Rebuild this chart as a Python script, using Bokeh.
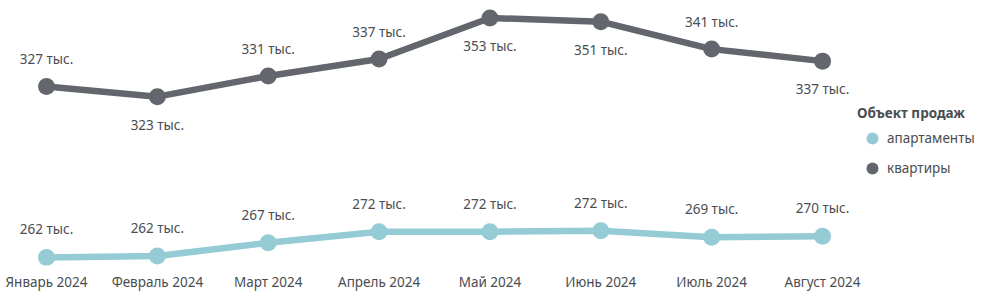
from bokeh.plotting import figure
from bokeh.models import ColumnDataSource, Legend, LegendItem, FixedTicker
from bokeh.core.properties import value
from bokeh.embed import file_html
from bokeh.resources import INLINE

months = ["Январь 2024", "Февраль 2024", "Март 2024", "Апрель 2024",
          "Май 2024", "Июнь 2024", "Июль 2024", "Август 2024"]
flats = [327, 323, 331, 337, 353, 351, 341, 337]
apartments = [262, 262, 267, 272, 272, 272, 269, 270]
flats_y = [327.4, 323.5, 331.4, 337.9, 353.6, 352.2, 341.7, 337.1]
apartments_y = [262.0, 262.5, 267.6, 271.8, 271.8, 272.2, 269.7, 270.1]
flats_label_pos = ["above", "below", "above", "above", "below", "below", "above", "below"]

FONT = "Noto Sans"
TEXT = "#4a4d52"
GREY = "#63676d"
TEAL = "#94cbd5"

x = list(range(len(months)))

p = figure(width=986, height=295, output_backend="svg", toolbar_location=None,
           x_range=(-0.415, 8.479), y_range=(258.9, 360.3),
           y_axis_type=None, min_border=0, min_border_bottom=30,
           outline_line_color=None, background_fill_color="white",
           border_fill_color="white")
p.grid.visible = False

ax = p.xaxis[0]
ax.ticker = FixedTicker(ticks=x)
ax.major_label_overrides = {i: m for i, m in enumerate(months)}
ax.axis_line_color = None
ax.major_tick_line_color = None
ax.minor_tick_line_color = None
ax.major_tick_out = 0
ax.major_label_standoff = 7
ax.major_label_text_font = FONT
ax.major_label_text_font_size = "13.5px"
ax.major_label_text_color = TEXT

src_f = ColumnDataSource(dict(x=x, y=flats_y,
                              lab=[f"{v} тыс." for v in flats],
                              off=[-27 if s == "above" else 28 for s in flats_label_pos]))
src_a = ColumnDataSource(dict(x=x, y=apartments_y,
                              lab=[f"{v} тыс." for v in apartments],
                              off=[-28] * len(x)))

p.line("x", "y", source=src_f, line_color=GREY, line_width=6.5)
rf = p.scatter("x", "y", source=src_f, size=17, fill_color=GREY, line_color=None)
p.line("x", "y", source=src_a, line_color=TEAL, line_width=6.5)
ra = p.scatter("x", "y", source=src_a, size=17, fill_color=TEAL, line_color=None)

for src in (src_f, src_a):
    p.text("x", "y", text="lab", source=src, y_offset="off",
           text_align="center", text_baseline="middle",
           text_font=value(FONT), text_font_size="13.5px", text_color=TEXT)

legend = Legend(items=[LegendItem(label="апартаменты", renderers=[ra]),
                       LegendItem(label="квартиры", renderers=[rf])],
                location=(857, 82), title="Объект продаж",
                title_text_font=FONT, title_text_font_size="13.5px",
                title_text_font_style="bold", title_text_color=TEXT,
                title_standoff=1,
                label_text_font=FONT, label_text_font_size="13.5px",
                label_text_color=TEXT,
                glyph_width=30, glyph_height=30, label_standoff=-6,
                spacing=0, padding=0, margin=0,
                border_line_color=None, background_fill_alpha=0)
p.add_layout(legend)

open("out.html", "w").write(file_html(p, INLINE))
